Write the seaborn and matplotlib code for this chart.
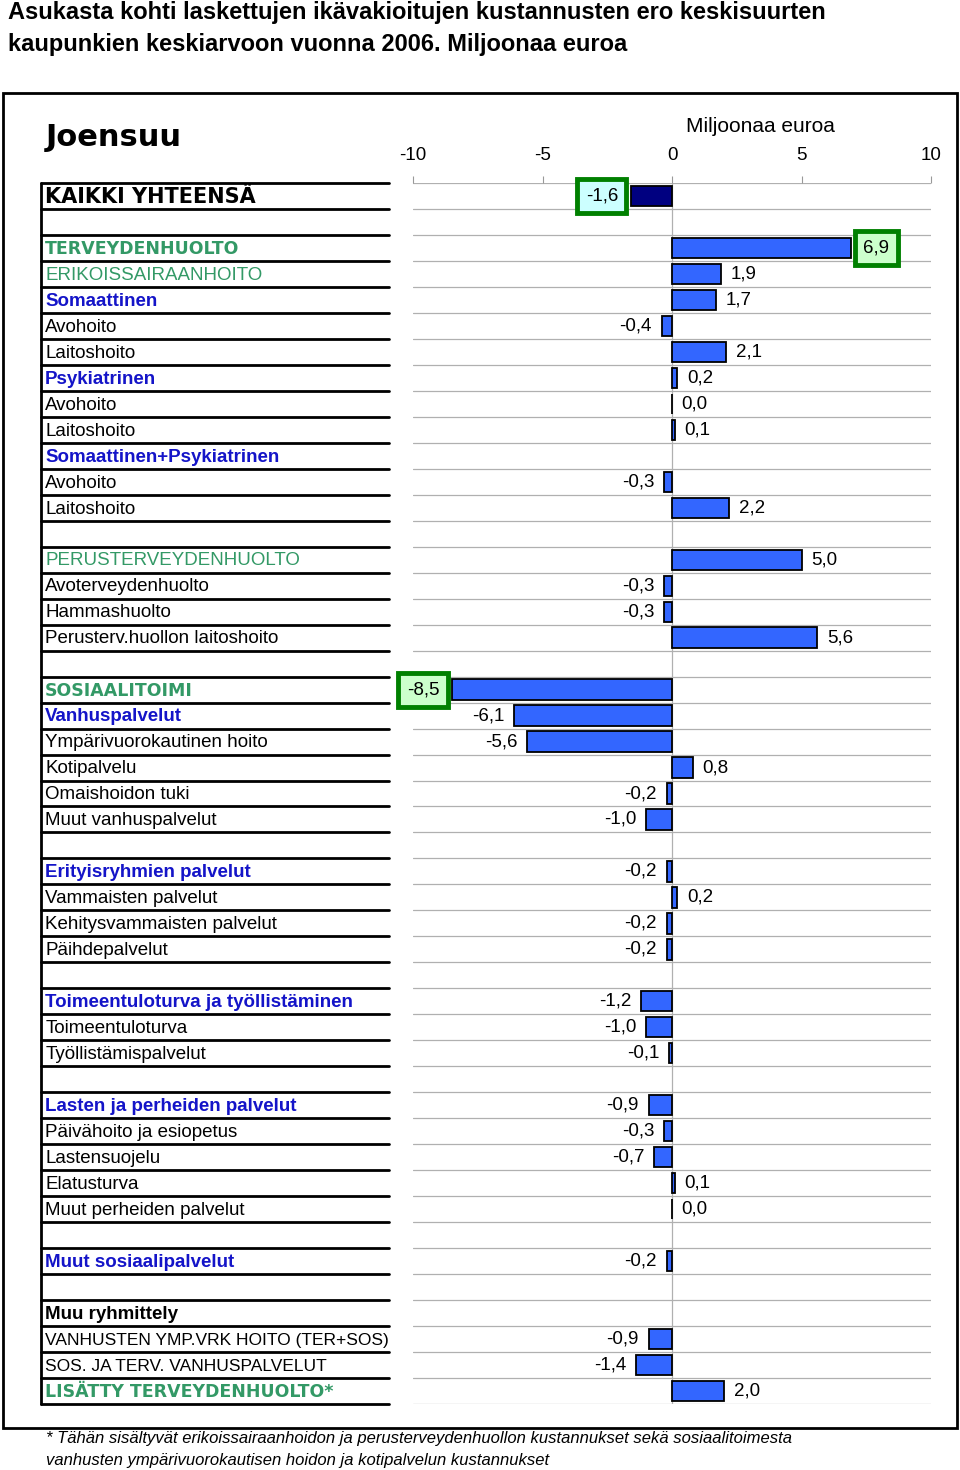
import pandas as pd
import matplotlib
matplotlib.use("Agg")
import matplotlib.pyplot as plt
import seaborn as sns
from matplotlib.patches import Rectangle

# rows from top to bottom, "" = empty spacer row
row_labels = [
    "KAIKKI YHTEENSÄ", "",
    "TERVEYDENHUOLTO", "ERIKOISSAIRAANHOITO", "Somaattinen", "Avohoito", "Laitoshoito",
    "Psykiatrinen", "Avohoito", "Laitoshoito", "Somaattinen+Psykiatrinen", "Avohoito",
    "Laitoshoito", "",
    "PERUSTERVEYDENHUOLTO", "Avoterveydenhuolto", "Hammashuolto",
    "Perusterv.huollon laitoshoito", "",
    "SOSIAALITOIMI", "Vanhuspalvelut", "Ympärivuorokautinen hoito", "Kotipalvelu",
    "Omaishoidon tuki", "Muut vanhuspalvelut", "",
    "Erityisryhmien palvelut", "Vammaisten palvelut", "Kehitysvammaisten palvelut",
    "Päihdepalvelut", "",
    "Toimeentuloturva ja työllistäminen", "Toimeentuloturva", "Työllistämispalvelut", "",
    "Lasten ja perheiden palvelut", "Päivähoito ja esiopetus", "Lastensuojelu",
    "Elatusturva", "Muut perheiden palvelut", "",
    "Muut sosiaalipalvelut", "",
    "Muu ryhmittely", "VANHUSTEN YMP.VRK HOITO (TER+SOS)", "SOS. JA TERV. VANHUSPALVELUT",
    "LISÄTTY TERVEYDENHUOLTO*",
]
# million euros, None = no bar
row_values = [
    -1.6, None,
    6.9, 1.9, 1.7, -0.4, 2.1,
    0.2, 0.0, 0.1, None, -0.3,
    2.2, None,
    5.0, -0.3, -0.3,
    5.6, None,
    -8.5, -6.1, -5.6, 0.8,
    -0.2, -1.0, None,
    -0.2, 0.2, -0.2,
    -0.2, None,
    -1.2, -1.0, -0.1, None,
    -0.9, -0.3, -0.7,
    0.1, 0.0, None,
    -0.2, None,
    None, -0.9, -1.4,
    2.0,
]
x_ticks = [-10, -5, 0, 5, 10]

title_lines = [
    "Asukasta kohti laskettujen ikävakioitujen kustannusten ero keskisuurten",
    "kaupunkien keskiarvoon vuonna 2006. Miljoonaa euroa",
]
city = "Joensuu"
axis_title = "Miljoonaa euroa"
footnote = [
    "* Tähän sisältyvät erikoissairaanhoidon ja perusterveydenhuollon kustannukset sekä sosiaalitoimesta",
    "vanhusten ympärivuorokautisen hoidon ja kotipalvelun kustannukset",
]

# label styling
green_heavy = {2, 19, 46}
green_plain = {3, 14}
blue_heads = {4, 7, 10, 20, 26, 31, 35, 41}
boxed = {0: "#ccffff", 2: "#ccffcc", 19: "#ccffcc"}

GREEN = "#339966"
BLUE_TXT = "#1414c8"
BAR = "#3366ff"
NAVY = "#000080"

W, H = 960, 1470
TOP, BOTTOM = 183, 1404


def fx(px):
    return px / W


def fy(py):
    return 1 - py / H


def fmt(v):
    return f"{v:.1f}".replace(".", ",")


sns.set_theme(style="white")
plt.rcParams["font.family"] = ["Liberation Sans", "DejaVu Sans"]
plt.rcParams["text.color"] = "black"
plt.rcParams["xtick.color"] = "black"

n = len(row_labels)
ids = [f"r{i}" for i in range(n)]
df = pd.DataFrame({"row": ids, "value": row_values})
df["value"] = df["value"].astype(float)
palette = {rid: (NAVY if i == 0 else BAR) for i, rid in enumerate(ids)}

fig = plt.figure(figsize=(W / 100, H / 100), dpi=100)

ax = fig.add_axes([fx(413), fy(BOTTOM), fx(931 - 413), (BOTTOM - TOP) / H])
sns.barplot(data=df.dropna(), x="value", y="row", order=ids, hue="row",
            palette=palette, legend=False, orient="h", width=0.78, saturation=1,
            edgecolor="black", linewidth=1.3, ax=ax)
ax.set_xlim(-10, 10)
ax.set_ylim(n - 0.5, -0.5)
ax.set_xlabel("")
ax.set_ylabel("")
ax.set_yticks([])
ax.set_xticks(x_ticks)
ax.set_xticklabels([str(t) for t in x_ticks], fontsize=13.5)
ax.xaxis.tick_top()
ax.tick_params(axis="x", top=True, direction="out", length=5, width=0.8,
               color="#999999", labelcolor="black", pad=9)
for s in ax.spines.values():
    s.set_visible(False)
ax.set_facecolor("none")

for b in range(n + 1):
    ax.axhline(b - 0.5, color="#b0b0b0", lw=0.9, zorder=0)
ax.axvline(0, color="#b0b0b0", lw=0.9, zorder=0)

for i, v in enumerate(row_values):
    if v is None:
        continue
    side = 1 if v >= 0 else -1
    kw = dict(xy=(v, i), xytext=(side * 7, 0), textcoords="offset points",
              ha="left" if side > 0 else "right", va="center", fontsize=13.5)
    if i in boxed:
        kw["xytext"] = (side * 9, 0)
        kw["bbox"] = dict(boxstyle="square,pad=0.45", fc=boxed[i], ec="#008000", lw=3.5)
    ax.annotate(fmt(v), **kw)

# label table on the left
lab = fig.add_axes([fx(41), fy(BOTTOM), fx(389 - 41), (BOTTOM - TOP) / H])
lab.set_xlim(0, 1)
lab.set_ylim(n - 0.5, -0.5)
lab.axis("off")
for b in range(n + 1):
    lab.plot([0, 1], [b - 0.5, b - 0.5], color="black", lw=2, clip_on=False)
lab.plot([0, 0], [-0.5, n - 0.5], color="black", lw=2, clip_on=False)

for i, t in enumerate(row_labels):
    if not t:
        continue
    kw = dict(fontsize=13.5, color="black", va="center", ha="left")
    if i == 0:
        kw.update(fontsize=15, fontweight="heavy", family=["DejaVu Sans"])
    elif i in green_heavy:
        kw.update(color=GREEN, fontweight="heavy", family=["DejaVu Sans"], fontsize=12.5)
    elif i in green_plain:
        kw.update(color=GREEN, fontweight="medium")
    elif i in blue_heads:
        kw.update(color=BLUE_TXT, fontweight="bold")
    elif i == 43:
        kw.update(fontweight="semibold")
    elif i in (44, 45):
        kw.update(fontsize=12.5)
    lab.text(0.012, i + 0.05, t, **kw)

# titles and frame
fig.text(fx(8), fy(13), title_lines[0], fontsize=17, fontweight="bold", va="center")
fig.text(fx(8), fy(44), title_lines[1], fontsize=17, fontweight="bold", va="center")
fig.text(fx(46), fy(137), city, fontsize=22, fontweight="heavy",
         family=["DejaVu Sans"], va="center")
fig.text(fx(760), fy(126), axis_title, fontsize=15, ha="center", va="center")
fig.text(fx(46), fy(1439), footnote[0], fontsize=12, style="italic", va="center")
fig.text(fx(46), fy(1460), footnote[1], fontsize=12, style="italic", va="center")
fig.add_artist(Rectangle((fx(3), fy(1428)), fx(954), (1428 - 93) / H,
                         transform=fig.transFigure, fill=False, ec="black", lw=2))

fig.savefig("out.png", dpi=100)
